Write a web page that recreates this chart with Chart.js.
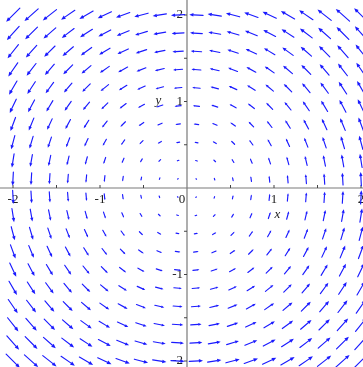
<!DOCTYPE html>
<html lang="en">
<head>
  <meta charset="UTF-8">
  <title>Vector field F = (-y, x)</title>
  <script src="https://cdn.jsdelivr.net/npm/chart.js"></script>
  <style>
    html, body {
      margin: 0;
      padding: 0;
      background-color: #ffffff;
    }
    #fieldChart {
      display: block;
    }
  </style>
</head>
<body>
  <canvas id="fieldChart" width="363" height="367"></canvas>

  <script>
    // 20 x 20 sample grid over [-2, 2]
    const gridX = [-2, -1.7895, -1.5789, -1.3684, -1.1579, -0.9474, -0.7368, -0.5263, -0.3158, -0.1053,
                   0.1053, 0.3158, 0.5263, 0.7368, 0.9474, 1.1579, 1.3684, 1.5789, 1.7895, 2];
    const gridY = [-2, -1.7895, -1.5789, -1.3684, -1.1579, -0.9474, -0.7368, -0.5263, -0.3158, -0.1053,
                   0.1053, 0.3158, 0.5263, 0.7368, 0.9474, 1.1579, 1.3684, 1.5789, 1.7895, 2];

    // tick labels on the axes
    const xTickLabels = [-2, -1, 0, 1, 2];
    const yTickLabels = [-2, -1, 1, 2];
    const minorTicks = [-1.5, -1, -0.5, 0.5, 1, 1.5, 2, -2];

    // rotation field: F(x, y) = (-y, x)
    function field(x, y) {
      return { u: -y, v: x };
    }

    const arrowScale = 0.079; // data units per unit of |F|

    const points = [];
    gridX.forEach(x => {
      gridY.forEach(y => {
        const f = field(x, y);
        points.push({ x: x, y: y, u: f.u, v: f.v });
      });
    });

    const axesPlugin = {
      id: 'axes',
      beforeDatasetsDraw(chart) {
        const ctx = chart.ctx;
        const xs = chart.scales.x;
        const ys = chart.scales.y;
        const x0 = xs.getPixelForValue(0);
        const y0 = ys.getPixelForValue(0);
        ctx.save();
        ctx.strokeStyle = '#7a7a7a';
        ctx.lineWidth = 1.2;
        ctx.beginPath();
        ctx.moveTo(0, y0);
        ctx.lineTo(chart.width, y0);
        ctx.moveTo(x0, 0);
        ctx.lineTo(x0, chart.height);
        ctx.stroke();

        ctx.strokeStyle = '#444';
        ctx.lineWidth = 1;
        ctx.beginPath();
        minorTicks.forEach(t => {
          const px = xs.getPixelForValue(t);
          ctx.moveTo(px, y0);
          ctx.lineTo(px, y0 - 3);
          const py = ys.getPixelForValue(t);
          ctx.moveTo(x0, py);
          ctx.lineTo(x0 - 3, py);
        });
        ctx.stroke();

        ctx.fillStyle = '#222';
        ctx.font = '13px "Liberation Serif", "DejaVu Serif", serif';
        ctx.textBaseline = 'middle';
        ctx.textAlign = 'center';
        xTickLabels.forEach(t => {
          let px = xs.getPixelForValue(t);
          if (t === 0) px -= 5;
          ctx.fillText(String(t), px, y0 + 12);
        });
        ctx.textAlign = 'right';
        yTickLabels.forEach(t => {
          ctx.fillText(String(t), x0 - 4, ys.getPixelForValue(t));
        });

        ctx.font = 'italic 13px "Liberation Serif", "DejaVu Serif", serif';
        ctx.textAlign = 'center';
        ctx.fillText('x', xs.getPixelForValue(1.04), ys.getPixelForValue(-0.31));
        ctx.fillText('y', xs.getPixelForValue(-0.33), ys.getPixelForValue(1.01));
        ctx.restore();
      }
    };

    const arrowPlugin = {
      id: 'arrows',
      afterDatasetsDraw(chart) {
        const ctx = chart.ctx;
        const xs = chart.scales.x;
        const ys = chart.scales.y;
        ctx.save();
        ctx.strokeStyle = '#1a1aff';
        ctx.fillStyle = '#1a1aff';
        ctx.lineWidth = 1.15;
        ctx.lineCap = 'round';
        chart.data.datasets[0].data.forEach(p => {
          const tx = xs.getPixelForValue(p.x - arrowScale * p.u / 2);
          const ty = ys.getPixelForValue(p.y - arrowScale * p.v / 2);
          const hx = xs.getPixelForValue(p.x + arrowScale * p.u / 2);
          const hy = ys.getPixelForValue(p.y + arrowScale * p.v / 2);
          const dx = hx - tx;
          const dy = hy - ty;
          const len = Math.hypot(dx, dy);
          if (len < 0.3) return;
          const ux = dx / len;
          const uy = dy / len;
          const head = Math.min(4.5, len * 0.3);
          const half = head * 0.42;
          const bx = hx - ux * head;
          const by = hy - uy * head;
          ctx.beginPath();
          ctx.moveTo(tx, ty);
          ctx.lineTo(bx, by);
          ctx.stroke();
          ctx.beginPath();
          ctx.moveTo(hx, hy);
          ctx.lineTo(bx - uy * half, by + ux * half);
          ctx.lineTo(bx + uy * half, by - ux * half);
          ctx.closePath();
          ctx.fill();
        });
        ctx.restore();
      }
    };

    const ctx = document.getElementById('fieldChart').getContext('2d');
    new Chart(ctx, {
      type: 'scatter',
      data: {
        datasets: [{
          label: 'F',
          data: points,
          pointRadius: 0,
          pointHoverRadius: 0
        }]
      },
      options: {
        responsive: false,
        animation: false,
        layout: {
          padding: { left: 13, right: 2, top: 15, bottom: 6 }
        },
        plugins: {
          legend: { display: false },
          tooltip: { enabled: false }
        },
        scales: {
          x: { type: 'linear', min: -2, max: 2, display: false },
          y: { type: 'linear', min: -2, max: 2, display: false }
        }
      },
      plugins: [axesPlugin, arrowPlugin]
    });
  </script>
</body>
</html>
